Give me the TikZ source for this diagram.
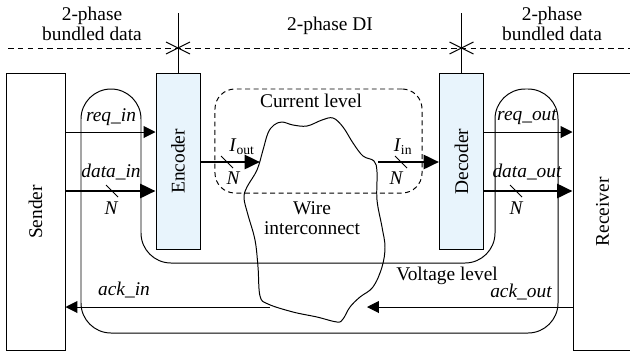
\documentclass[tikz,border=0pt]{standalone}
\usepackage{fontspec}
\setmainfont{Liberation Serif}
\usetikzlibrary{arrows.meta,positioning,calc}
\definecolor{coderbg}{RGB}{232,244,252}

\begin{document}
\begin{tikzpicture}[x=0.025cm, y=-0.025cm, line width=0.7pt,
  font=\fontsize{13.8}{14.5}\selectfont,
  unit/.style={draw, minimum width=1.475cm, minimum height=6.9cm, inner sep=0pt},
  coder/.style={draw, fill=coderbg, minimum width=1.1cm, minimum height=4.375cm, inner sep=0pt},
  sig/.style={-{Triangle[length=8.5pt, width=8.5pt]}},
  bus/.style={line width=2pt, -{Triangle[length=11pt, width=10pt]}},
  lbl/.style={inner sep=0pt, font=\fontsize{13.8}{14.5}\selectfont\itshape},
]
\useasboundingbox (0,0) rectangle (630,351);

\node[unit]  (sender)   at (35.5,212)  {\rotatebox{90}{Sender}};
\node[unit]  (receiver) at (602.5,212) {\rotatebox{90}{Receiver}};
\node[coder] (enc)      at (178,161.5) {\rotatebox{90}{Encoder}};
\node[coder] (dec)      at (461.5,161.5) {\rotatebox{90}{Decoder}};

% protocol borders
\draw[dash pattern=on 4pt off 3pt] (8,48) -- (630,48);
\node[align=center] (bdl) at (92,24)  {2-phase\\bundled data};
\node               (di)  at (330,26) {2-phase DI};
\node[align=center] (bdr) at (552,24) {2-phase\\bundled data};
\coordinate (encx) at (enc.north |- 0,48);
\coordinate (decx) at (dec.north |- 0,48);
\draw (enc.north) -- (enc.north |- 0,13);
\draw (dec.north) -- (dec.north |- 0,13);
\draw (encx) +(-12,-6) -- +(12,6) (encx) +(-12,6) -- +(12,-6);
\draw (decx) +(-12,-6) -- +(12,6) (decx) +(-12,6) -- +(12,-6);

% voltage level region
\draw[rounded corners=0.75cm] (81,200) -- (81,89) -- (141,89) -- (141,263) -- (495,263)
  -- (495,89) -- (558,89) -- (558,333) -- (81,333) -- cycle;
\node (volt) at (447,276) {Voltage level};

% current level region
\node[draw, dash pattern=on 3.5pt off 2.5pt, rounded corners=0.5cm,
      minimum width=5.175cm, minimum height=2.6cm] (cur) at (318.5,141) {};
\node (curlbl) at (311,101) {Current level};

% wire
\draw plot[smooth cycle, tension=0.6] coordinates {(268,133) (274,125) (282,122) (293,125)
  (307,126) (322,120) (333,118) (343,127) (353,143) (363,156) (374,161) (377,172)
  (377,200) (382,227) (385,247) (382,267) (373,287) (360,297) (350,307) (343,319)
  (337,322) (317,317) (293,312) (268,304) (260,296) (258,267) (255,240) (248,215)
  (244,198) (247,187) (257,170) (263,150)};
\node[align=center] (wire) at (312,218) {Wire\\interconnect};

% signals
\draw[sig] (sender.east |- 0,132) -- (enc.west |- 0,132);
\draw[bus] (sender.east |- 0,191) -- (enc.west |- 0,191);
\draw[sig] (dec.east |- 0,132) -- (receiver.west |- 0,132);
\draw[bus] (dec.east |- 0,191) -- (receiver.west |- 0,191);
\coordinate (iout) at (260,162);
\coordinate (iin)  at (378,162);
\draw[bus] (enc.east |- iout) -- (iout);
\draw[bus] (iin) -- (dec.west |- iin);
\coordinate (ackr) at (367,307);
\coordinate (ackl) at (270,307);
\draw[sig] (receiver.west |- ackr) -- (ackr);
\draw[sig] (ackl) -- (sender.east |- ackl);
\foreach \x/\y in {112/191, 227/162, 401/162, 516/191}
  \draw (\x,\y) +(-6,-6) -- +(6,6);

\node[lbl] (reqin)   at (111,117) {req\_in};
\node[lbl] (datain)  at (111,172) {data\_in};
\node[lbl] (nin)     at (111,208) {N};
\node[lbl] (reqout)  at (527,117) {req\_out};
\node[lbl] (dataout) at (527,172) {data\_out};
\node[lbl] (nout)    at (516,208) {N};
\node[inner sep=0pt] (ioutlbl) at (242,147) {\textit{I}\textsubscript{out}};
\node[lbl] (nio)     at (233,178) {N};
\node[inner sep=0pt] (iinlbl)  at (403,147) {\textit{I}\textsubscript{in}};
\node[lbl] (nii)     at (396,178) {N};
\node[lbl] (ackin)   at (124,290) {ack\_in};
\node[lbl] (ackout)  at (521,292) {ack\_out};
\end{tikzpicture}
\end{document}
